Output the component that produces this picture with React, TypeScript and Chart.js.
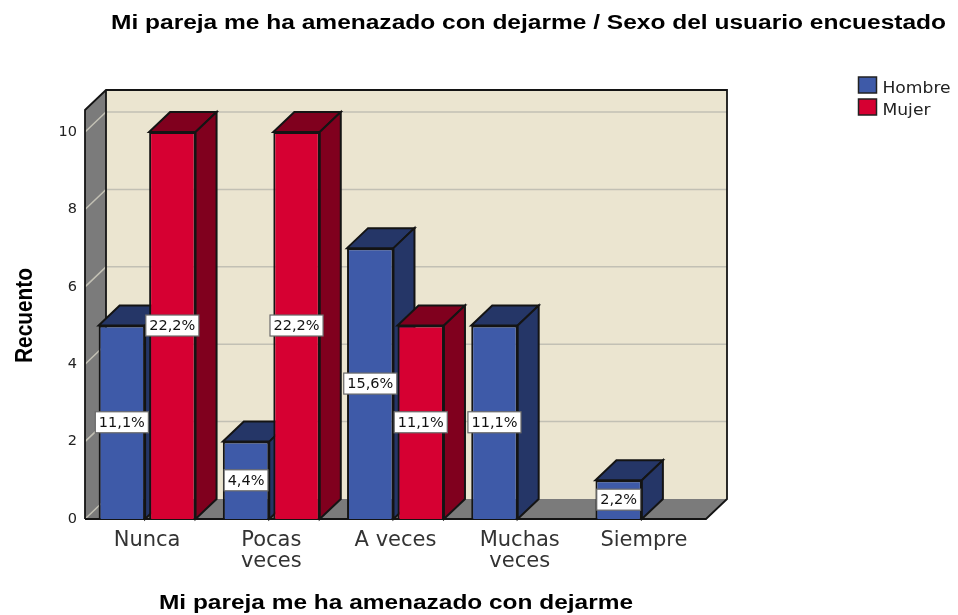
import React, { useEffect, useRef } from "react";
import { Chart, registerables } from "chart.js";

Chart.register(...registerables);

const categories = ["Nunca", ["Pocas", "veces"], "A veces", ["Muchas", "veces"], "Siempre"];
const hombre = [5, 2, 7, 5, 1];
const mujer = [10, 10, 5, null, null];
const hombrePct = ["11,1%", "4,4%", "15,6%", "11,1%", "2,2%"];
const mujerPct = ["22,2%", "22,2%", "11,1%", null, null];
const seriesNames = ["Hombre", "Mujer"];
const titleText = "Mi pareja me ha amenazado con dejarme / Sexo del usuario encuestado";
const xTitleText = "Mi pareja me ha amenazado con dejarme";
const yTitleText = "Recuento";

const FRONT = ["#3e5aa8", "#d60032"];
const DARK = ["#253667", "#80001e"];
const DX = 21;
const DY = 20;
const LINE = "#141414";

function poly(ctx: any, pts: number[][], fill: string | null, stroke: string | null, lw = 2) {
  ctx.beginPath();
  pts.forEach((p, i) => (i ? ctx.lineTo(p[0], p[1]) : ctx.moveTo(p[0], p[1])));
  ctx.closePath();
  if (fill) {
    ctx.fillStyle = fill;
    ctx.fill();
  }
  if (stroke) {
    ctx.strokeStyle = stroke;
    ctx.lineWidth = lw;
    ctx.stroke();
  }
}

function stretched(ctx: any, text: string, x: number, y: number, w: number, font: string, color: string, rot = 0) {
  ctx.save();
  ctx.font = font;
  ctx.fillStyle = color;
  ctx.textAlign = "left";
  ctx.textBaseline = "alphabetic";
  ctx.translate(x, y);
  if (rot) ctx.rotate(rot);
  ctx.scale(w / ctx.measureText(text).width, 1);
  ctx.fillText(text, 0, 0);
  ctx.restore();
}

const chart3d = {
  id: "chart3d",
  beforeDatasetsDraw(chart: any) {
    const { ctx, chartArea: a, scales } = chart;
    ctx.save();
    // back wall, side wall, floor
    poly(ctx, [[a.left + DX, a.top - DY], [a.right + DX, a.top - DY], [a.right + DX, a.bottom - DY], [a.left + DX, a.bottom - DY]], "#ebe5d0", null);
    poly(ctx, [[a.left, a.top], [a.left + DX, a.top - DY], [a.left + DX, a.bottom - DY], [a.left, a.bottom]], "#7b7b7b", null);
    poly(ctx, [[a.left, a.bottom], [a.right, a.bottom], [a.right + DX, a.bottom - DY], [a.left + DX, a.bottom - DY]], "#7b7b7b", null);
    // grid lines
    ctx.strokeStyle = "#c2c0b4";
    ctx.lineWidth = 1.5;
    scales.y.ticks.forEach((t: any) => {
      const y = scales.y.getPixelForValue(t.value);
      ctx.beginPath();
      ctx.moveTo(a.left, y);
      ctx.lineTo(a.left + DX, y - DY);
      if (t.value > 0) ctx.lineTo(a.right + DX, y - DY);
      ctx.stroke();
    });
    // frame
    ctx.strokeStyle = LINE;
    ctx.lineWidth = 1.8;
    ctx.beginPath();
    ctx.moveTo(a.left, a.bottom);
    ctx.lineTo(a.left, a.top);
    ctx.lineTo(a.left + DX, a.top - DY);
    ctx.lineTo(a.right + DX, a.top - DY);
    ctx.lineTo(a.right + DX, a.bottom - DY);
    ctx.lineTo(a.right, a.bottom);
    ctx.lineTo(a.left, a.bottom);
    ctx.moveTo(a.left + DX, a.top - DY);
    ctx.lineTo(a.left + DX, a.bottom - DY);
    ctx.stroke();
    // bar depth faces
    chart.data.datasets.forEach((ds: any, di: number) => {
      chart.getDatasetMeta(di).data.forEach((bar: any, i: number) => {
        if (ds.data[i] == null) return;
        const l = bar.x - bar.width / 2;
        const r = bar.x + bar.width / 2;
        const t = bar.y;
        const b = bar.base;
        poly(ctx, [[l, t], [r, t], [r + DX, t - DY], [l + DX, t - DY]], DARK[di], LINE);
        poly(ctx, [[r, t], [r + DX, t - DY], [r + DX, b - DY], [r, b]], DARK[di], LINE);
      });
    });
    ctx.restore();
  },
  afterDatasetsDraw(chart: any) {
    const { ctx } = chart;
    const pct = [hombrePct, mujerPct];
    ctx.save();
    ctx.font = "14.5px 'DejaVu Sans'";
    ctx.textAlign = "center";
    ctx.textBaseline = "middle";
    chart.data.datasets.forEach((ds: any, di: number) => {
      chart.getDatasetMeta(di).data.forEach((bar: any, i: number) => {
        const s = pct[di][i];
        if (ds.data[i] == null || !s) return;
        const w = ctx.measureText(s).width + 7;
        const h = 21;
        const cy = (bar.y + bar.base) / 2;
        ctx.fillStyle = "#ffffff";
        ctx.strokeStyle = "#6a6a6a";
        ctx.lineWidth = 1.2;
        ctx.fillRect(bar.x - w / 2, cy - h / 2, w, h);
        ctx.strokeRect(bar.x - w / 2, cy - h / 2, w, h);
        ctx.fillStyle = "#111111";
        ctx.fillText(s, bar.x, cy + 0.5);
      });
    });
    ctx.restore();
  },
  afterDraw(chart: any) {
    const { ctx } = chart;
    const bold = "bold 20px 'Liberation Sans'";
    stretched(ctx, titleText, 111, 29, 835, bold, "#000000");
    stretched(ctx, xTitleText, 159, 609, 474, bold, "#000000");
    stretched(ctx, yTitleText, 32, 363, 95, "bold 23px 'Liberation Sans'", "#000000", -Math.PI / 2);
    // legend
    seriesNames.forEach((n, i) => {
      const y = 77 + i * 22;
      ctx.fillStyle = FRONT[i];
      ctx.strokeStyle = "#222222";
      ctx.lineWidth = 1.5;
      ctx.fillRect(858.5, y, 18, 16);
      ctx.strokeRect(858.5, y, 18, 16);
      const label = "16px 'DejaVu Sans'";
      ctx.font = label;
      const w = ctx.measureText(n).width;
      stretched(ctx, n, 882.5, y + 16, w * 1.07, label, "#222222");
    });
  },
};

export default function App() {
  const ref = useRef<HTMLCanvasElement | null>(null);
  useEffect(() => {
    const chart = new Chart(ref.current as HTMLCanvasElement, {
      type: "bar",
      data: {
        labels: categories as any,
        datasets: [
          { label: seriesNames[0], data: hombre, backgroundColor: FRONT[0], borderColor: LINE, borderWidth: 2, categoryPercentage: 0.813, barPercentage: 0.92 },
          { label: seriesNames[1], data: mujer, backgroundColor: FRONT[1], borderColor: LINE, borderWidth: 2, categoryPercentage: 0.813, barPercentage: 0.92 },
        ],
      },
      options: {
        responsive: false,
        animation: false,
        layout: { padding: { top: 110, right: 252, left: 0, bottom: 0 } },
        plugins: { legend: { display: false }, title: { display: false }, tooltip: { enabled: false } },
        scales: {
          x: {
            grid: { display: false },
            border: { display: false },
            ticks: { font: { family: "'DejaVu Sans'", size: 21, lineHeight: 1 }, color: "#333333", padding: 3, maxRotation: 0, autoSkip: false },
            afterFit: (s: any) => { s.height = 96; },
          },
          y: {
            min: 0,
            max: 10.57,
            grid: { display: false, tickLength: 0 },
            border: { display: false },
            ticks: { stepSize: 2, includeBounds: false, font: { family: "'DejaVu Sans'", size: 14.5 }, color: "#222222", padding: 8 },
            afterFit: (s: any) => { s.width = 85; },
          },
        },
      } as any,
      plugins: [chart3d],
    });
    return () => chart.destroy();
  }, []);
  return (
    <canvas
      ref={ref}
      width={958}
      height={615}
      style={{ position: "fixed", left: 0, top: 0, width: 958, height: 615, display: "block", background: "#ffffff" }}
    />
  );
}
